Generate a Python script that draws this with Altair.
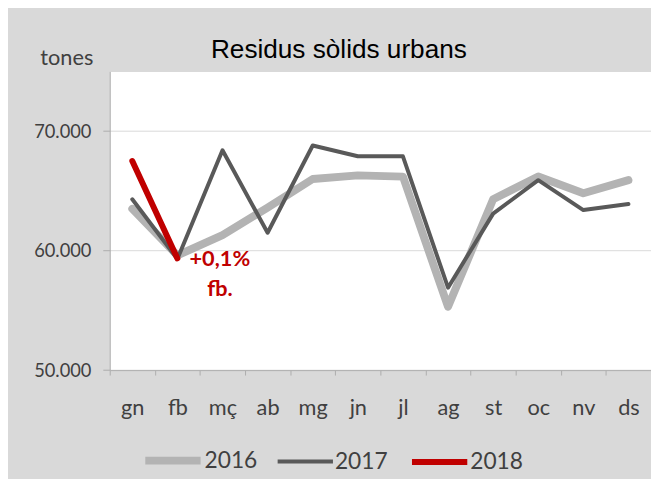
import altair as alt
import pandas as pd

months = ["gn", "fb", "mç", "ab", "mg", "jn", "jl", "ag", "st", "oc", "nv", "ds"]
years = ["2016", "2017", "2018"]
v2016 = [63500, 59600, 61300, 63600, 66000, 66300, 66200, 55300, 64300, 66200, 64800, 65900]
v2017 = [64300, 59300, 68400, 61500, 68800, 67900, 67900, 56900, 63100, 65900, 63400, 63900]
v2018 = [67500, 59350]
colors = ["#b3b3b3", "#595959", "#c00000"]
widths = [8, 4, 6]
title_text = "Residus sòlids urbans"
y_title = "tones"
note_lines = ["+0,1%", "fb."]
note_month = "fb"
y_ticks = [50000, 60000, 70000]
y_domain = [50000, 75000]

rows = []
for yr, vals in zip(years, [v2016, v2017, v2018]):
    for m, v in zip(months, vals):
        rows.append({"mes": m, "any": yr, "valor": v})
df = pd.DataFrame(rows)

note_df = pd.DataFrame([{"mes": note_month, "valor": v2018[1], "text": "\n".join(note_lines)}])

axis_gray = "#adadad"
text_gray = "#404040"

x_enc = alt.X(
    "mes:N", sort=months, bandPosition=0.5,
    scale=alt.Scale(type="band", paddingInner=0, paddingOuter=0),
    axis=alt.Axis(title=None, labelAngle=0, tickBand="extent", grid=False,
                  domainColor=axis_gray, tickColor=axis_gray, tickSize=5,
                  labelPadding=40, labelBaseline="alphabetic",
                  labelFont="Lato", labelFontSize=22, labelColor=text_gray),
)
y_enc = alt.Y(
    "valor:Q",
    scale=alt.Scale(domain=y_domain, nice=False, zero=False),
    axis=alt.Axis(values=y_ticks, title=y_title, titleAngle=0, titleX=-44, titleY=-6.6,
                  titleAlign="center", titleBaseline="alphabetic", titleFont="Lato",
                  titleFontSize=22, titleFontWeight="normal", titleColor=text_gray,
                  labelExpr="replace(format(datum.value, ',.0f'), ',', '.')",
                  labelFont="Lato", labelFontSize=18.5, labelColor=text_gray,
                  labelPadding=12, tickSize=7, grid=True, gridColor="#d9d9d9",
                  domainColor=axis_gray, tickColor=axis_gray),
)

legend = alt.Legend(title=None, orient="none", legendX=32, legendY=362, direction="horizontal",
                    symbolType="stroke", symbolSize=3136, labelFont="Lato", labelFontSize=23,
                    labelColor=text_gray, labelOffset=0, columnPadding=12, padding=0)

lines = alt.Chart(df).mark_line(strokeCap="round", strokeJoin="round").encode(
    x=x_enc,
    y=y_enc,
    color=alt.Color("any:N", scale=alt.Scale(domain=years, range=colors), legend=legend),
    strokeWidth=alt.StrokeWidth("any:N", scale=alt.Scale(type="ordinal", domain=years, range=widths), legend=legend),
)

note = alt.Chart(note_df).mark_text(
    align="center", baseline="top", dx=43, dy=-9, font="Lato", fontSize=22,
    fontWeight="bold", color="#c00000", lineBreak="\n", lineHeight=30,
).encode(x=x_enc, y=y_enc, text="text:N")

chart = alt.layer(lines, note).properties(
    width=548, height=302.4,
    title=alt.TitleParams(title_text, font="Liberation Sans", fontSize=26.5, fontWeight="normal",
                          color="#000000", anchor="middle", frame="group", dx=-42,
                          baseline="alphabetic", offset=-37),
    autosize=alt.AutoSizeParams(type="none"),
    padding={"left": 103, "top": 61.3, "right": 0, "bottom": 107.3},
).configure(background="#d9d9d9").configure_view(fill="white", stroke="transparent")

chart.save("out.html", embed_options={"renderer": "svg", "actions": False})
